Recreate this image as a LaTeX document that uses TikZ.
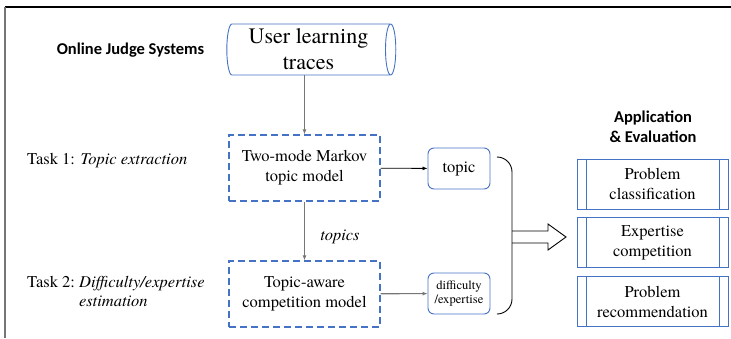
\documentclass[tikz,border=0pt]{standalone}
\usepackage{fontspec}
\IfFontExistsTF{TeX Gyre Termes}{\setmainfont{TeX Gyre Termes}}{\setmainfont{Liberation Serif}}
\newfontfamily\headfont{Carlito}
\usetikzlibrary{shapes,arrows.meta,positioning,calc}

\definecolor{boxblue}{HTML}{4472C4}
\definecolor{linegray}{HTML}{767676}

\begin{document}
\begin{tikzpicture}[x=1pt, y=-1pt,
    model/.style={draw=boxblue, dash pattern=on 7pt off 4pt, line width=1.2pt, minimum width=151pt, minimum height=66pt, align=center, font=\rmfamily\fontsize{16.5}{20}\selectfont},
    result/.style={draw=boxblue, rounded corners=6pt, line width=0.9pt, minimum width=62pt, minimum height=41pt, align=center, inner sep=1pt},
    app/.style={draw=boxblue, line width=0.9pt, minimum width=151pt, minimum height=50pt, align=center, font=\rmfamily\fontsize{16.5}{20}\selectfont,
        path picture={\draw[boxblue, line width=0.9pt]
            ([xshift=9pt]path picture bounding box.north west) -- ([xshift=9pt]path picture bounding box.south west)
            ([xshift=-9pt]path picture bounding box.north east) -- ([xshift=-9pt]path picture bounding box.south east);}},
    head/.style={font=\headfont\bfseries\fontsize{16.5}{20}\selectfont, align=center},
    task/.style={anchor=west, inner sep=0pt, font=\rmfamily\fontsize{16.5}{19}\selectfont},
    flow/.style={draw=linegray, line width=1.1pt, -{Latex[length=5pt,width=4pt]}}
]
    \useasboundingbox (0,0) rectangle (731,338);

    % frame
    \draw[line width=1.5pt] (5,7) -- (731,7);
    \draw[linegray, line width=1.5pt] (5,7) -- (5,338);

    % left column
    \node[head] (ojs) at (130.5,50) {Online Judge Systems};
    \node[task] (task1) at (27,161) {Task 1: \textit{Topic extraction}};
    \node[task] (task2) at (27,293.5) {\begin{tabular}{@{}l@{\hspace{4.1pt}}l@{}}Task 2: & \textit{Difficulty/expertise}\\ & \textit{estimation}\end{tabular}};

    % models
    \node[cylinder, draw=boxblue, line width=0.9pt, minimum height=169pt, minimum width=51pt, aspect=0.25,
          align=center, inner sep=0pt, font=\rmfamily\fontsize{22}{26}\selectfont] (traces) at (308.5,49.5) {User learning\\traces};
    \node[model] (markov) at (304.5,168) {Two-mode Markov\\topic model};
    \node[model] (aware) at (304.5,294) {Topic-aware\\competition model};

    % outputs
    \node[result, font=\rmfamily\fontsize{16.5}{20}\selectfont] (topic) at (459,168.5) {topic};
    \node[result, font=\rmfamily\fontsize{12.6}{14}\selectfont] (diff) at (459,293.5) {difficulty\\/expertise};

    \draw[flow] (traces.south -| markov.north) -- (markov.north);
    \draw[flow] (markov) -- node[pos=0.6, right=12pt, font=\rmfamily\fontsize{16.5}{20}\selectfont\itshape] (topics) {topics} (aware);
    \draw[line width=0.8pt, -{Latex[length=5pt,width=4pt]}] (markov) -- (topic);
    \draw[flow] (aware) -- (diff);

    % bracket and block arrow
    \coordinate (bt) at (498,157);
    \coordinate (bm) at (512,237);
    \coordinate (bb) at (498,314);
    \coordinate (tip) at (566,237);
    \draw[line width=0.9pt, rounded corners=15pt] (bt) -| (bm) |- (bb);
    \draw[line width=0.9pt] ($(bm)+(0,-6)$) -- ++(36,0) -- ++(0,-7) -- (tip) -- ++(-18,13) -- ++(0,-7) -- ++(-36,0);

    % applications
    \node[head] (apptitle) at (653,127) {Application\\\& Evaluation};
    \node[app] (classify) at (652.5,184) {Problem\\classification};
    \node[app, below=8pt of classify] (compete) {Expertise\\competition};
    \node[app, below=8pt of compete] (recommend) {Problem\\recommendation};
\end{tikzpicture}
\end{document}
